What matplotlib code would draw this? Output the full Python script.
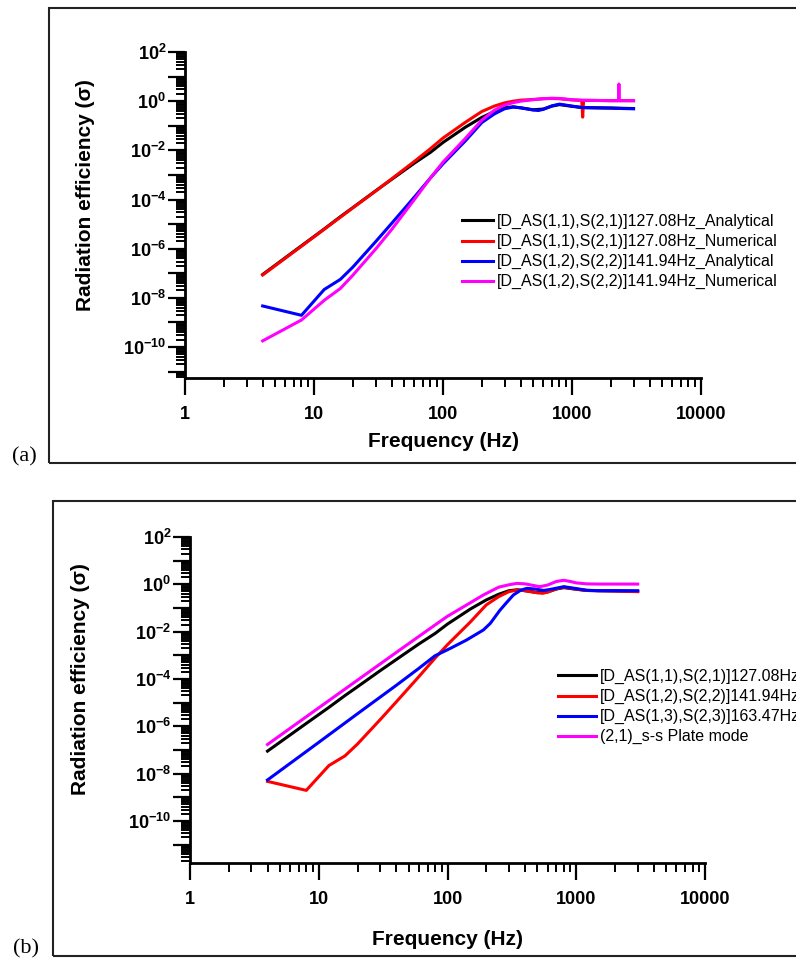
import matplotlib

matplotlib.use("Agg")

import matplotlib.pyplot as plt
import numpy as np
from matplotlib.patches import Rectangle
from matplotlib.ticker import FuncFormatter, LogLocator, NullFormatter

plt.rcParams["font.family"] = ["Liberation Sans", "DejaVu Sans"]
plt.rcParams["font.weight"] = "bold"
plt.rcParams["mathtext.fontset"] = "custom"
plt.rcParams["mathtext.bf"] = "Liberation Sans:bold"
plt.rcParams["mathtext.rm"] = "Liberation Sans:bold"

# ---- data: frequency (Hz) and log10(radiation efficiency) ----
FREQ_AS11_AN = [4, 8, 12, 16, 20, 30, 40, 60, 80, 100, 150, 200, 250, 300, 350,
                400, 500, 600, 700, 800, 1000, 1200, 1500, 2000, 2500, 3000]
LOG_AS11_AN = [-7.05, -5.88, -5.2, -4.7, -4.33, -3.65, -3.18, -2.52, -2.08, -1.68,
               -1.05, -0.66, -0.42, -0.27, -0.23, -0.27, -0.35, -0.32, -0.2, -0.14,
               -0.21, -0.26, -0.27, -0.28, -0.29, -0.3]

FREQ_AS11_NUM = [4, 8, 12, 16, 20, 30, 40, 60, 80, 100, 150, 200, 250, 300, 350,
                 400, 500, 600, 700, 800, 1000, 1190, 1210, 1230, 1500, 2000, 2500, 3000]
LOG_AS11_NUM = [-7.07, -5.9, -5.21, -4.72, -4.34, -3.66, -3.16, -2.45, -1.93, -1.5,
                -0.85, -0.42, -0.2, -0.07, 0.0, 0.04, 0.07, 0.1, 0.11, 0.1,
                0.05, 0.03, -0.65, 0.03, 0.03, 0.02, 0.02, 0.02]

FREQ_AS12_AN = [4, 8, 12, 16, 20, 30, 40, 60, 80, 100, 150, 200, 250, 300, 350,
                400, 500, 550, 600, 700, 800, 1000, 1200, 1500, 2000, 2500, 3000]
LOG_AS12_AN = [-8.33, -8.71, -7.66, -7.25, -6.75, -5.72, -4.97, -3.9, -3.12, -2.55,
               -1.6, -0.87, -0.52, -0.31, -0.24, -0.27, -0.36, -0.38, -0.33, -0.19,
               -0.12, -0.2, -0.26, -0.27, -0.28, -0.3, -0.31]

FREQ_AS12_NUM = [4, 8, 12, 16, 20, 30, 40, 60, 80, 100, 150, 200, 250, 300, 350,
                 400, 500, 600, 700, 800, 1000, 1200, 1500, 2000, 2290, 2310, 2330,
                 2500, 3000]
LOG_AS12_NUM = [-9.75, -8.9, -8.1, -7.62, -7.08, -6.02, -5.22, -4.0, -3.12, -2.48,
                -1.5, -0.77, -0.37, -0.16, -0.06, 0.0, 0.06, 0.1, 0.12, 0.11,
                0.06, 0.04, 0.03, 0.02, 0.02, 0.7, 0.02, 0.02, 0.02]

FREQ_AS13_AN = [4, 10, 20, 40, 60, 80, 105, 140, 190, 215, 255, 290, 325, 370, 413,
                480, 560, 650, 800, 1000, 1200, 1500, 2000, 3000]
LOG_AS13_AN = [-8.27, -6.68, -5.47, -4.27, -3.55, -3.02, -2.71, -2.36, -1.93, -1.65,
               -1.1, -0.75, -0.45, -0.25, -0.17, -0.2, -0.26, -0.2, -0.1, -0.18,
               -0.25, -0.27, -0.27, -0.27]

FREQ_PLATE = [4, 10, 20, 40, 60, 80, 100, 140, 190, 250, 300, 345, 400, 520, 600,
              700, 800, 900, 1000, 1200, 1500, 2000, 3000]
LOG_PLATE = [-6.77, -5.22, -4.05, -2.88, -2.2, -1.72, -1.35, -0.88, -0.45, -0.12,
             -0.02, 0.04, 0.02, -0.1, -0.03, 0.12, 0.17, 0.12, 0.06, 0.02,
             0.01, 0.01, 0.01]

LABELS_A = [
    "[D_AS(1,1),S(2,1)]127.08Hz_Analytical",
    "[D_AS(1,1),S(2,1)]127.08Hz_Numerical",
    "[D_AS(1,2),S(2,2)]141.94Hz_Analytical",
    "[D_AS(1,2),S(2,2)]141.94Hz_Numerical",
]
LABELS_B = [
    "[D_AS(1,1),S(2,1)]127.08Hz",
    "[D_AS(1,2),S(2,2)]141.94Hz",
    "[D_AS(1,3),S(2,3)]163.47Hz",
    "(2,1)_s-s Plate mode",
]
COLORS = ["#000000", "#ff0000", "#0000ff", "#ff00ff"]

W, H = 796, 963
LW = 2.2


def _fig_rect(left, top, right, bottom):
    """Pixel box (from top-left) -> figure fraction [l, b, w, h]."""
    return [left / W, 1 - bottom / H, (right - left) / W, (bottom - top) / H]


def _style_axes(ax, ymin):
    ax.set_xscale("log")
    ax.set_yscale("log")
    ax.set_xlim(1, 1e4)
    ax.set_ylim(ymin, 1e2)
    for side in ("top", "right"):
        ax.spines[side].set_visible(False)
    for side in ("left", "bottom"):
        ax.spines[side].set_linewidth(2.0)

    ax.xaxis.set_major_locator(LogLocator(base=10, numticks=30))
    ax.xaxis.set_minor_locator(LogLocator(base=10, subs=np.arange(2, 10), numticks=30))
    ax.xaxis.set_major_formatter(FuncFormatter(lambda v, p: f"{v:.0f}"))
    ax.xaxis.set_minor_formatter(NullFormatter())

    ax.yaxis.set_major_locator(LogLocator(base=10, numticks=30))
    ax.yaxis.set_minor_locator(LogLocator(base=10, subs=np.arange(2, 10), numticks=30))

    def ylab(v, p):
        e = int(round(np.log10(v)))
        return r"$\mathbf{10^{%d}}$" % e if e % 2 == 0 else ""

    ax.yaxis.set_major_formatter(FuncFormatter(ylab))
    ax.yaxis.set_minor_formatter(NullFormatter())

    ax.tick_params(which="major", direction="out", length=12, width=1.6, labelsize=13)
    ax.tick_params(which="minor", direction="out", length=6.5, width=1.4)
    ax.tick_params(axis="x", which="major", pad=8)
    ax.tick_params(axis="y", which="major", pad=1.5)
    ax.set_xlabel("Frequency (Hz)", fontsize=15, fontweight="bold")
    ax.set_ylabel("Radiation efficiency (\u03c3)", fontsize=15, fontweight="bold")


fig = plt.figure(figsize=(W / 100, H / 100), dpi=100)

# panel frames
for (l, t, r, b) in [(49, 8, 810, 463), (53, 501, 810, 956)]:
    fig.patches.append(Rectangle((l / W, 1 - b / H), (r - l) / W, (b - t) / H,
                                 transform=fig.transFigure, fill=False,
                                 edgecolor="#222222", linewidth=1.5, clip_on=False))

fig.text(12 / W, 1 - 457 / H, "(a)", fontsize=16, fontweight="normal",
         family="Liberation Serif", va="center", ha="left")
fig.text(13 / W, 1 - 949 / H, "(b)", fontsize=16, fontweight="normal",
         family="Liberation Serif", va="center", ha="left")

legend_kw = dict(loc="upper left", bbox_transform=fig.transFigure, frameon=False,
                 borderpad=0, borderaxespad=0, labelspacing=0.31,
                 prop={"size": 11.5, "weight": "normal"})

# ---- panel (a) ----
ax_a = fig.add_axes(_fig_rect(185, 52, 701, 378))
series_a = [
    (FREQ_AS11_AN, LOG_AS11_AN),
    (FREQ_AS11_NUM, LOG_AS11_NUM),
    (FREQ_AS12_AN, LOG_AS12_AN),
    (FREQ_AS12_NUM, LOG_AS12_NUM),
]
for (f, s), c, lab in zip(series_a, COLORS, LABELS_A):
    ax_a.plot(f, np.power(10.0, s), color=c, lw=LW, label=lab, solid_joinstyle="round")
_style_axes(ax_a, 10 ** -11.26)
ax_a.xaxis.set_label_coords(0.5, -0.165)
ax_a.yaxis.set_label_coords(-0.174, 0.561)
ax_a.legend(bbox_to_anchor=(462 / W, 1 - 214 / H), handlelength=1.95,
            handletextpad=0.25, **legend_kw)

# ---- panel (b) ----
ax_b = fig.add_axes(_fig_rect(190, 537, 705, 863))
series_b = [
    (FREQ_AS11_AN, LOG_AS11_AN),
    (FREQ_AS12_AN, LOG_AS12_AN),
    (FREQ_AS13_AN, LOG_AS13_AN),
    (FREQ_PLATE, LOG_PLATE),
]
for (f, s), c, lab in zip(series_b, COLORS, LABELS_B):
    ax_b.plot(f, np.power(10.0, s), color=c, lw=LW, label=lab, solid_joinstyle="round")
_style_axes(ax_b, 10 ** -11.78)
ax_b.xaxis.set_label_coords(0.5, -0.205)
ax_b.yaxis.set_label_coords(-0.194, 0.563)
ax_b.legend(bbox_to_anchor=(558 / W, 1 - 669 / H), handlelength=2.4,
            handletextpad=0.2, **legend_kw)

fig.savefig("out.png", dpi=100)
